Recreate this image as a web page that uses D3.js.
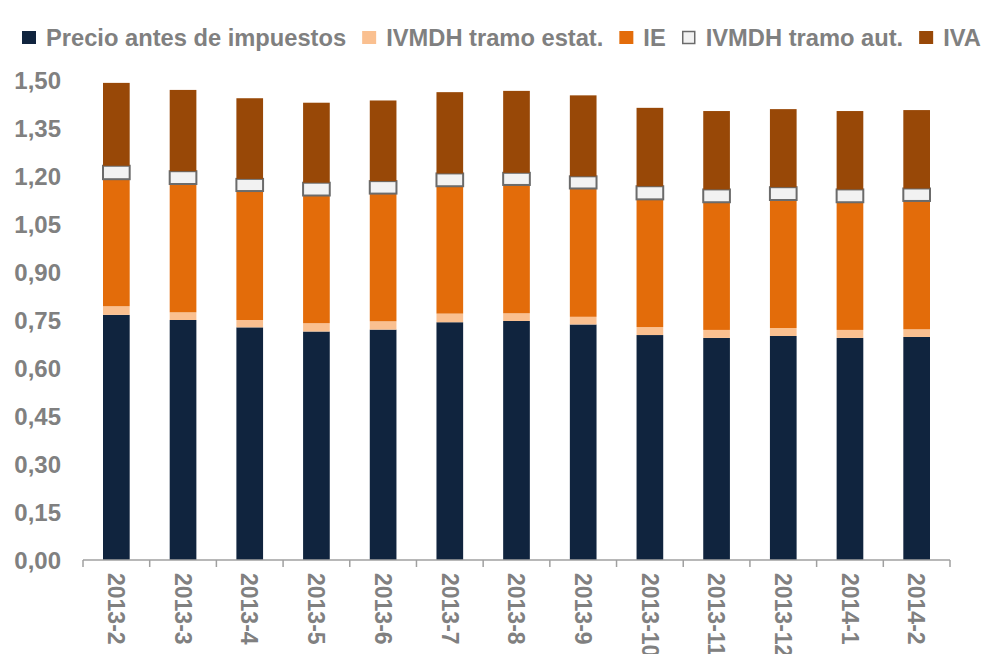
<!DOCTYPE html>
<html>
<head>
<meta charset="utf-8">
<script src="https://cdn.jsdelivr.net/npm/d3@7"></script>
<style>
  body { margin: 0; background: #fff; }
  svg text { font-family: "Liberation Sans", Arial, sans-serif; font-weight: bold; fill: #808080; }
</style>
</head>
<body>
<div id="chart"></div>
<script>
// months shown on the x axis
const months = ['2013-2', '2013-3', '2013-4', '2013-5', '2013-6', '2013-7', '2013-8',
  '2013-9', '2013-10', '2013-11', '2013-12', '2014-1', '2014-2']

// stacked components, euros per litre
const precio = [0.766, 0.750, 0.727, 0.714, 0.720, 0.743, 0.747, 0.736, 0.703, 0.694, 0.700, 0.694, 0.697]
const ivmdhEstat = [0.027, 0.024, 0.023, 0.026, 0.026, 0.027, 0.024, 0.024, 0.025, 0.025, 0.025, 0.025, 0.024]
const ie = [0.397, 0.401, 0.403, 0.399, 0.399, 0.398, 0.401, 0.401, 0.399, 0.399, 0.400, 0.399, 0.401]
const ivmdhAut = [0.042, 0.040, 0.038, 0.040, 0.039, 0.040, 0.038, 0.038, 0.041, 0.040, 0.040, 0.040, 0.039]
const iva = [0.259, 0.254, 0.252, 0.250, 0.252, 0.254, 0.256, 0.253, 0.245, 0.245, 0.244, 0.245, 0.245]

const yTicks = [0, 0.15, 0.30, 0.45, 0.60, 0.75, 0.90, 1.05, 1.20, 1.35, 1.50]

const series = [
  { key: 'precio', label: 'Precio antes de impuestos', values: precio, color: '#10243e' },
  { key: 'estat', label: 'IVMDH tramo estat.', values: ivmdhEstat, color: '#fac090' },
  { key: 'ie', label: 'IE', values: ie, color: '#e36c0a' },
  { key: 'aut', label: 'IVMDH tramo aut.', values: ivmdhAut, color: '#f2f2f2', stroke: '#6b6b6b' },
  { key: 'iva', label: 'IVA', values: iva, color: '#984807' }
]

const width = 989
const height = 654
const margin = { top: 80, right: 39, bottom: 94, left: 83 }

const svg = d3.select('#chart')
  .append('svg')
  .attr('width', width)
  .attr('height', height)

const x = d3.scaleBand()
  .domain(months)
  .range([margin.left, width - margin.right])
  .paddingInner(0.6)
  .paddingOuter(0.3)

const y = d3.scaleLinear()
  .domain([0, 1.5])
  .range([height - margin.bottom, margin.top])

const rows = months.map((m, i) => {
  const r = { month: m }
  series.forEach(s => { r[s.key] = s.values[i] })
  return r
})

const stacked = d3.stack().keys(series.map(s => s.key))(rows)

// bars
stacked.forEach((layer, li) => {
  const s = series[li]
  svg.append('g')
    .selectAll('rect')
    .data(layer)
    .join('rect')
    .attr('x', d => x(d.data.month))
    .attr('y', d => y(d[1]))
    .attr('width', x.bandwidth())
    .attr('height', d => y(d[0]) - y(d[1]))
    .attr('fill', s.color)
    .attr('stroke', s.stroke || 'none')
    .attr('stroke-width', s.stroke ? 2 : 0)
})

// y axis labels (no line)
const fmt = v => d3.format('.2f')(v).replace('.', ',')
svg.append('g')
  .selectAll('text')
  .data(yTicks)
  .join('text')
  .attr('x', 61)
  .attr('y', d => y(d))
  .attr('dy', '0.36em')
  .attr('text-anchor', 'end')
  .style('font-size', '24px')
  .text(fmt)

// x axis line with ticks between categories
const base = y(0)
const step = x.step()
const edge = step * x.paddingInner() / 2
svg.append('line')
  .attr('x1', x.range()[0])
  .attr('x2', x.range()[1])
  .attr('y1', base)
  .attr('y2', base)
  .attr('stroke', '#a0a0a0')
  .attr('stroke-width', 1.5)

const bounds = months.map(m => x(m) - edge)
bounds.push(x(months[months.length - 1]) + x.bandwidth() + edge)
svg.append('g')
  .selectAll('line')
  .data(bounds)
  .join('line')
  .attr('x1', d => d)
  .attr('x2', d => d)
  .attr('y1', base)
  .attr('y2', base + 7)
  .attr('stroke', '#a0a0a0')
  .attr('stroke-width', 1.5)

svg.append('g')
  .selectAll('text')
  .data(months)
  .join('text')
  .attr('transform', d => `translate(${x(d) + x.bandwidth() / 2},${base + 13}) rotate(90)`)
  .attr('dy', '0.36em')
  .style('font-size', '23px')
  .text(d => d)

// legend
const legend = svg.append('g')
let lx = 22
series.forEach(s => {
  legend.append('rect')
    .attr('x', lx)
    .attr('y', 31)
    .attr('width', s.stroke ? 12 : 14)
    .attr('height', s.stroke ? 12 : 13)
    .attr('transform', s.stroke ? 'translate(1,0.5)' : null)
    .attr('fill', s.color)
    .attr('stroke', s.stroke || 'none')
    .attr('stroke-width', s.stroke ? 1.5 : 0)
  const t = legend.append('text')
    .attr('x', lx + 24)
    .attr('y', 46)
    .style('font-size', '23.7px')
    .text(s.label)
  lx += 24 + t.node().getComputedTextLength() + 16
})
</script>
</body>
</html>
